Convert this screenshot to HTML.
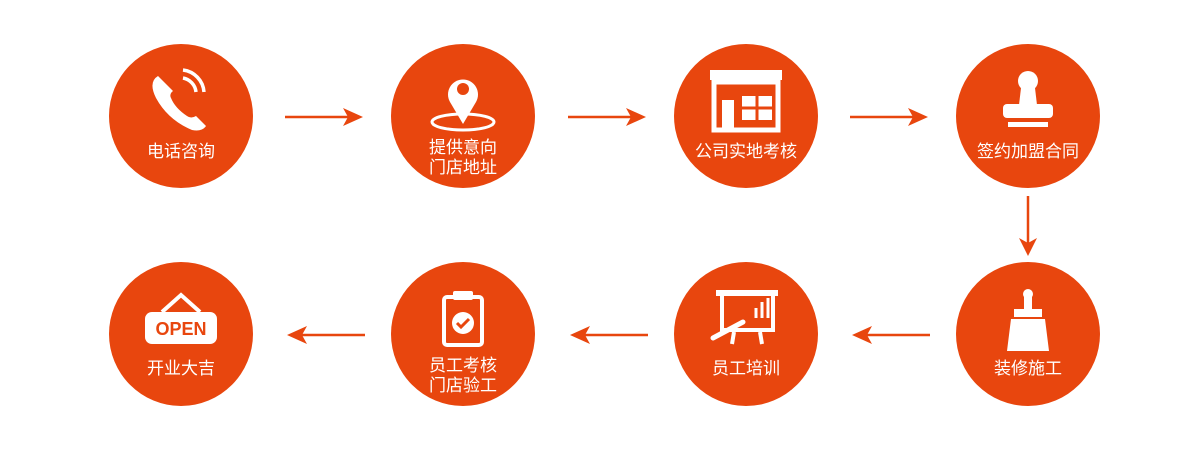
<!DOCTYPE html>
<html><head><meta charset="utf-8"><style>
html,body{margin:0;padding:0;background:#fff;}
svg{display:block}
text{font-family:"Liberation Sans","Noto Sans CJK SC",sans-serif;fill:#fff;font-size:17px;text-anchor:middle}
</style></head><body>
<svg width="1200" height="451" viewBox="0 0 1200 451">
<defs>
<g id="ar"><line x1="0" y1="0" x2="70" y2="0" stroke="#e8460e" stroke-width="2.5"/><path d="M78,0 L58,-9 L63,0 L58,9 Z" fill="#e8460e"/></g>
</defs>
<g fill="#e8460e">
<circle cx="181" cy="116" r="72"/><circle cx="463" cy="116" r="72"/><circle cx="746" cy="116" r="72"/><circle cx="1028" cy="116" r="72"/>
<circle cx="181" cy="334" r="72"/><circle cx="463" cy="334" r="72"/><circle cx="746" cy="334" r="72"/><circle cx="1028" cy="334" r="72"/>
</g>
<use href="#ar" transform="translate(285,117)"/>
<use href="#ar" transform="translate(568,117)"/>
<use href="#ar" transform="translate(850,117)"/>
<line x1="1028" y1="196" x2="1028" y2="248" stroke="#e8460e" stroke-width="2.5"/>
<path d="M1028,256 L1019,238 L1028,243 L1037,238 Z" fill="#e8460e"/>
<use href="#ar" transform="translate(930,335) rotate(180)"/>
<use href="#ar" transform="translate(648,335) rotate(180)"/>
<use href="#ar" transform="translate(365,335) rotate(180)"/>
<g fill="#fff" stroke="#fff">
<path d="M158,76 q-10,6 -2,22 q12,22 36,32 q10,2 14,-4 l-10,-10 q-5,3 -9,0 q-12,-8 -16,-18 q-2,-4 2,-7 z" stroke="none"/>
<path d="M183,78 a16,16 0 0 1 13,14 M183,70 a24,24 0 0 1 21,22" fill="none" stroke-width="3.5"/>
<path d="M463,124 l-13,-22 a15,15 0 1 1 26,0 z" stroke="none"/>
<circle cx="463" cy="89" r="6" fill="#e8460e" stroke="none"/>
<ellipse cx="463" cy="122" rx="31" ry="8" fill="none" stroke-width="3"/>
<rect x="710" y="70" width="72" height="10" stroke="none"/>
<rect x="714" y="82" width="64" height="48" fill="none" stroke-width="5"/>
<rect x="722" y="100" width="12" height="30" stroke="none"/>
<rect x="742" y="96" width="30" height="24" fill="#fff" stroke="none"/>
<path d="M757,96 v24 M742,108 h30" stroke="#e8460e" stroke-width="3"/>
<circle cx="1028" cy="81" r="10" stroke="none"/>
<path d="M1021,88 h14 l2,17 h-18 z" stroke="none"/>
<rect x="1003" y="104" width="50" height="14" rx="4" stroke="none"/>
<rect x="1008" y="122" width="40" height="5" stroke="none"/>
<path d="M162,312 l19,-17 l19,17" fill="none" stroke-width="4"/>
<rect x="145" y="312" width="72" height="32" rx="7" stroke="none"/>
<text x="181" y="335" style="fill:#e8460e;stroke:none;font-weight:bold;font-size:18px">OPEN</text>
<rect x="444" y="297" width="38" height="48" rx="3" fill="none" stroke-width="4"/>
<rect x="453" y="291" width="20" height="9" rx="2" stroke="none"/>
<circle cx="463" cy="323" r="11" stroke="none"/>
<path d="M457,323 l4,4 l8,-8" fill="none" stroke="#e8460e" stroke-width="3"/>
<rect x="716" y="290" width="62" height="6" stroke="none"/>
<path d="M722,296 v34 h51 v-34" fill="none" stroke-width="4"/>
<path d="M756,318 v-10 M762,318 v-16 M768,318 v-20" stroke-width="3"/>
<path d="M713,338 l30,-16" stroke-width="5" stroke-linecap="round"/>
<path d="M734,332 l-2,12 M760,332 l2,12" stroke-width="4"/>
<circle cx="1028" cy="294" r="5" stroke="none"/>
<rect x="1024" y="296" width="8" height="14" stroke="none"/>
<rect x="1014" y="309" width="28" height="8" stroke="none"/>
<path d="M1011,319 h34 l4,32 h-42 z" stroke="none"/>
</g>
<text x="181" y="157">电话咨询</text>
<text x="463" y="153">提供意向</text><text x="463" y="173">门店地址</text>
<text x="746" y="157">公司实地考核</text>
<text x="1028" y="157">签约加盟合同</text>
<text x="181" y="374">开业大吉</text>
<text x="463" y="371">员工考核</text><text x="463" y="391">门店验工</text>
<text x="746" y="374">员工培训</text>
<text x="1028" y="374">装修施工</text>
</svg>
</body></html>
